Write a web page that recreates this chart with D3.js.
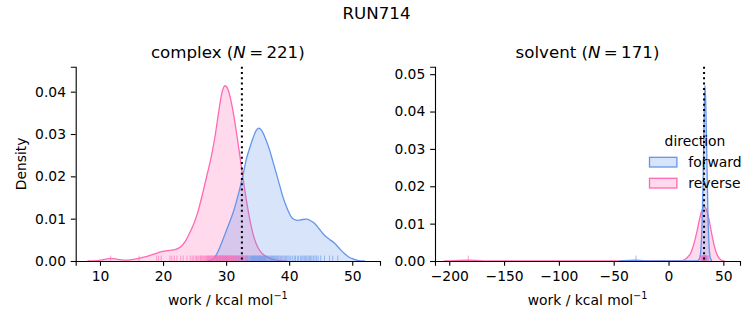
<!DOCTYPE html>
<html>
<head>
<meta charset="utf-8">
<script src="https://cdn.jsdelivr.net/npm/d3@7"></script>
<style>
  html, body { margin: 0; padding: 0; background: #fff; }
  svg { display: block; font-family: "DejaVu Sans", sans-serif; }
</style>
</head>
<body>
<svg id="chart" width="753" height="325"></svg>
<script>
// ---------------- data ----------------
const figTitle = "RUN714";
const directions = ["forward", "reverse"];
const colors = { forward: "#6495ED", reverse: "#FF69B4" };

// complex panel KDE curves [work, density]
const complexForwardKde = [[27.0,0],[27.9,0.0004],[28.7,0.0022],[29.5,0.0051],[30.3,0.0082],[31.1,0.0114],[32.15,0.017],[32.7,0.0205],[33.2,0.024],[33.8,0.027],[34.3,0.0292],[34.8,0.0309],[35.2,0.0314],[35.7,0.0307],[36.3,0.0287],[36.9,0.0262],[37.4,0.0236],[37.96,0.0207],[38.5,0.0178],[39.0,0.0152],[39.6,0.0127],[40.3,0.0105],[40.8,0.0098],[41.4,0.0096],[42.1,0.0098],[42.8,0.0099],[43.4,0.0095],[44.0,0.0089],[44.8,0.0075],[45.6,0.0061],[46.4,0.0051],[47.2,0.0042],[48.0,0.0029],[48.8,0.0017],[49.5,0.0009],[50.1,0.0005],[51.0,0.0001],[52.0,0]];
const complexReverseKde = [[8.0,0],[9.5,0.0001],[10.8,0.0004],[11.7,0.0006],[12.8,0.0004],[14.0,0.0002],[15.3,0.0004],[16.6,0.0008],[17.7,0.0012],[18.7,0.0017],[19.8,0.0022],[21.0,0.0025],[21.9,0.0027],[22.9,0.0035],[23.6,0.0048],[24.2,0.0066],[24.8,0.0085],[25.5,0.0115],[26.3,0.0161],[27.0,0.0205],[27.7,0.0250],[28.3,0.0300],[28.8,0.0350],[29.3,0.0395],[29.8,0.0414],[30.3,0.0405],[31.0,0.0362],[31.8,0.0288],[32.5,0.0215],[33.2,0.0145],[33.8,0.0095],[34.4,0.0057],[35.0,0.0033],[35.7,0.0018],[36.7,0.0008],[38.0,0.0002],[39.5,0]];

// complex panel rug samples
const complexForwardRug = [28.6,29.0,29.4,29.8,30.2,30.5,30.9,31.2,31.5,31.7,32.0,32.2,32.4,32.6,32.8,33.0,33.15,33.3,33.45,33.6,33.75,33.9,34.0,34.1,34.2,34.3,34.4,34.5,34.6,34.7,34.8,34.9,35.0,35.1,35.2,35.3,35.4,35.5,35.6,35.7,35.8,35.9,36.0,36.1,36.2,36.3,36.45,36.6,36.75,36.9,37.05,37.2,37.35,37.5,37.65,37.8,37.95,38.1,38.25,38.4,38.6,38.8,39.0,39.2,39.4,39.6,39.8,40.0,40.25,40.5,40.8,41.0,41.3,41.5,41.8,42.0,42.2,42.4,42.6,42.8,43.0,43.2,43.4,43.6,43.85,44.1,44.35,44.6,45.0,45.6,46.4,46.9,47.7];
const complexReverseRug = [11.7,16.2,19.0,19.3,19.7,21.1,21.4,21.8,22.2,22.8,23.2,23.8,24.3,24.6,24.8,25.1,25.3,25.5,25.7,25.9,26.0,26.15,26.3,26.45,26.6,26.75,26.9,27.0,27.1,27.2,27.3,27.4,27.5,27.6,27.7,27.8,27.9,28.0,28.1,28.2,28.3,28.4,28.5,28.55,28.6,28.7,28.8,28.9,29.0,29.05,29.1,29.2,29.3,29.4,29.5,29.55,29.6,29.7,29.8,29.9,30.0,30.05,30.1,30.2,30.3,30.4,30.5,30.6,30.7,30.8,30.9,31.0,31.1,31.2,31.3,31.4,31.5,31.65,31.8,31.9,32.0,32.15,32.3,32.45,32.6,32.8,33.0,33.2,33.4];

// solvent panel KDE curves
const solventForwardKde = [[-45,0],[-30,0.0002],[-15,0],[26,0],[28.5,0.0008],[29.5,0.003],[30.5,0.009],[31.5,0.021],[32.5,0.038],[33.2,0.047],[34,0.042],[35,0.027],[36,0.012],[37,0.004],[38,0.001],[39.5,0]];
const solventReverseKde = [[-205,0],[-195,0.0001],[-183,0.0002],[-172,0.0001],[-162,0],[10,0],[12,0.0001],[15,0.0004],[18,0.0012],[20,0.002],[22,0.0035],[24,0.0055],[26,0.008],[28,0.0108],[30,0.0131],[32,0.0143],[33,0.0144],[35,0.0134],[37,0.011],[39,0.0079],[41,0.005],[43,0.0027],[45,0.0013],[47,0.0005],[49,0.0001],[51,0]];

const solventForwardRug = [-29.7,30.5,31.2,31.8,32.3,32.7,33.0,33.3,33.6,34.0,34.5,35.2];
const solventReverseRug = [-182.7,28.5,29.5,30.3,31.0,31.6,32.1,32.6,33.1,33.7,34.4,35.3,36.5];

const freeEnergy = { complex: 32.5, solvent: 32.4 };

const panels = [
  { name: "complex", N: 221, xDomain: [6.15, 54.4], yMax: 0.0459,
    xTicks: [10,20,30,40,50], yTicks: [0,0.01,0.02,0.03,0.04],
    kde: { forward: complexForwardKde, reverse: complexReverseKde },
    rug: { forward: complexForwardRug, reverse: complexReverseRug },
    x0: 75.7, x1: 380, ylabel: true },
  { name: "solvent", N: 171, xDomain: [-213, 65.2], yMax: 0.052,
    xTicks: [-200,-150,-100,-50,0,50], yTicks: [0,0.01,0.02,0.03,0.04,0.05],
    kde: { forward: solventForwardKde, reverse: solventReverseKde },
    rug: { forward: solventForwardRug, reverse: solventReverseRug },
    x0: 435, x1: 740, ylabel: false }
];

// ---------------- drawing ----------------
const svg = d3.select("#chart");
const FS = 13.89;
const yTop = 66.7, yBot = 261;
const minus = s => String(s).replace("-", "\u2212");

svg.append("text").attr("x", 376.5).attr("y", 19).attr("text-anchor", "middle")
  .attr("font-size", 16.67).attr("fill", "#000").text(figTitle);

panels.forEach(p => {
  const x = d3.scaleLinear().domain(p.xDomain).range([p.x0, p.x1]);
  const y = d3.scaleLinear().domain([0, p.yMax]).range([yBot, yTop]);
  const g = svg.append("g");

  const clipId = "clip-" + p.name;
  svg.append("clipPath").attr("id", clipId).append("rect")
    .attr("x", p.x0).attr("y", yTop).attr("width", p.x1 - p.x0).attr("height", yBot - yTop);
  const plot = g.append("g").attr("clip-path", `url(#${clipId})`);

  const area = d3.area().x(d => x(d[0])).y0(y(0)).y1(d => y(d[1])).curve(d3.curveMonotoneX);
  const line = d3.line().x(d => x(d[0])).y(d => y(d[1])).curve(d3.curveMonotoneX);

  // seaborn draws hue levels in reverse order
  ["reverse", "forward"].forEach(dir => {
    plot.append("path").datum(p.kde[dir]).attr("d", area)
      .attr("fill", colors[dir]).attr("fill-opacity", 0.25).attr("stroke", "none");
    plot.append("path").datum(p.kde[dir]).attr("d", line)
      .attr("fill", "none").attr("stroke", colors[dir]).attr("stroke-width", 1.3);
  });

  // rug
  const rugH = 0.028 * (yBot - yTop);
  ["forward", "reverse"].forEach(dir => {
    plot.selectAll(null).data(p.rug[dir]).enter().append("line")
      .attr("x1", d => x(d)).attr("x2", d => x(d))
      .attr("y1", yBot).attr("y2", yBot - rugH)
      .attr("stroke", colors[dir]).attr("stroke-width", 1).attr("stroke-opacity", 0.6);
  });

  // free energy line
  g.append("line").attr("x1", x(freeEnergy[p.name])).attr("x2", x(freeEnergy[p.name]))
    .attr("y1", yTop).attr("y2", yBot)
    .attr("stroke", "#000").attr("stroke-width", 2).attr("stroke-dasharray", "2,3.3");

  // axes
  const xAxis = d3.axisBottom(x).tickValues(p.xTicks).tickSizeOuter(0)
    .tickSize(4.86).tickPadding(4.86).tickFormat(d => minus(d));
  const yAxis = d3.axisLeft(y).tickValues(p.yTicks).tickSizeOuter(0)
    .tickSize(4.86).tickPadding(4.86).tickFormat(d3.format(".2f"));
  const gx = g.append("g").attr("transform", `translate(0,${yBot})`).call(xAxis);
  const gy = g.append("g").attr("transform", `translate(${p.x0},0)`).call(yAxis);
  [gx, gy].forEach(a => {
    a.attr("font-family", "DejaVu Sans").attr("font-size", FS);
    a.selectAll("path.domain").attr("stroke", "#000").attr("stroke-width", 1.1);
    a.selectAll(".tick line").attr("stroke", "#000").attr("stroke-width", 1.1);
    a.selectAll(".tick text").attr("fill", "#000");
  });

  // title
  const cx = (p.x0 + p.x1) / 2;
  const t = g.append("text").attr("x", cx).attr("y", 58.4).attr("text-anchor", "middle")
    .attr("font-size", 16.67).attr("fill", "#000");
  t.append("tspan").text(p.name + " (");
  t.append("tspan").attr("font-style", "italic").text("N");
  t.append("tspan").text("\u2009=\u2009" + p.N + ")");

  // x label
  const xl = g.append("text").attr("x", cx).attr("y", 304.5).attr("text-anchor", "middle")
    .attr("font-size", FS).attr("fill", "#000");
  xl.append("tspan").text("work / kcal mol");
  xl.append("tspan").attr("font-size", 9.7).attr("dy", -5.5).text("\u22121");

  if (p.ylabel) {
    g.append("text").attr("transform", `translate(26,${(yTop + yBot) / 2}) rotate(-90)`)
      .attr("text-anchor", "middle").attr("font-size", FS).attr("fill", "#000").text("Density");
  }
});

// legend
const leg = svg.append("g");
leg.append("text").attr("x", 695).attr("y", 145.5).attr("text-anchor", "middle")
  .attr("font-size", FS).attr("fill", "#000").text("direction");
directions.forEach((dir, i) => {
  const yy = 157.3 + i * 21;
  leg.append("rect").attr("x", 649.5).attr("y", yy).attr("width", 27.4).attr("height", 9.7)
    .attr("fill", colors[dir]).attr("fill-opacity", 0.25)
    .attr("stroke", colors[dir]).attr("stroke-width", 1.3);
  leg.append("text").attr("x", 688.3).attr("y", yy + 9.8)
    .attr("font-size", FS).attr("fill", "#000").text(dir);
});
</script>
</body>
</html>
